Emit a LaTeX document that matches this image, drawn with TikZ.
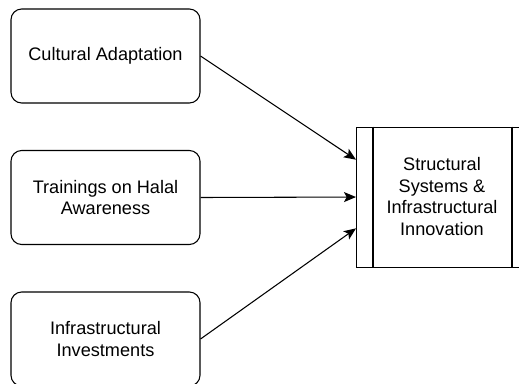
\documentclass[tikz,border=0pt]{standalone}
\usepackage{fontspec}
\setmainfont{Liberation Sans}
\usetikzlibrary{arrows.meta}
\begin{document}
\begin{tikzpicture}[x=0.75pt,y=-0.75pt,
  box/.style={draw,line width=0.8pt,rounded corners=8pt,minimum width=141.75pt,minimum height=70.5pt,align=center,inner sep=0pt,font=\fontsize{13.6pt}{16.3pt}\selectfont},
  conn/.style={line width=0.8pt,-{Stealth[length=9pt,width=7.5pt,inset=2pt]}}]
\useasboundingbox (0,0) rectangle (519,383);
\clip (0,0) rectangle (519,383);
\node[box] (a) at (105.5,56) {Cultural Adaptation};
\node[box] (b) at (105.5,197.5) {Trainings on Halal\\Awareness};
\node[box] (c) at (105.5,339) {Infrastructural\\Investments};
\node[draw,line width=0.8pt,minimum width=129.75pt,minimum height=105pt,inner sep=0pt,anchor=north west] (p) at (356,126.5) {};
\draw[line width=0.8pt] (373,126.5) -- (373,266.5);
\draw[line width=0.8pt] (512,126.5) -- (512,266.5);
\node[align=center,font=\fontsize{13.6pt}{16.3pt}\selectfont] (t) at (442,196.5) {Structural\\Systems \&\\Infrastructural\\Innovation};
\draw[conn] (a.east) -- ([yshift=28pt]p.west);
\draw[conn] (b.east) -- (p.west);
\draw[conn] (c.east) -- ([yshift=-23.5pt]p.west);
\end{tikzpicture}
\end{document}
